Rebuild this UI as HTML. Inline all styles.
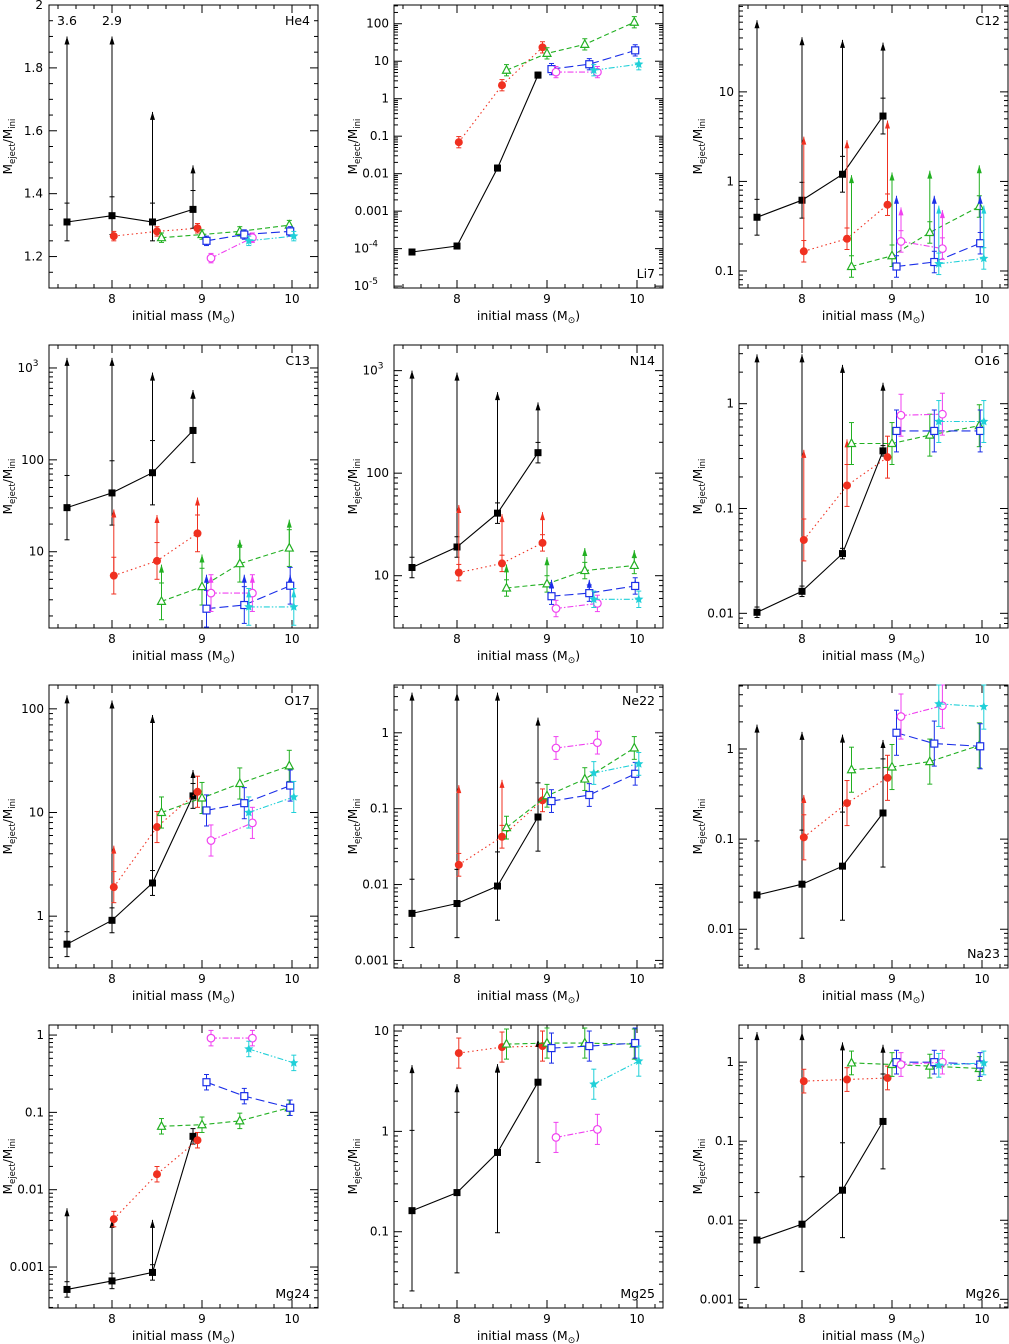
<!DOCTYPE html>
<html><head><meta charset="utf-8">
<style>
html,body{margin:0;padding:0;background:#fff;}
svg{display:block;font-family:"DejaVu Sans","Liberation Sans",sans-serif;}
</style></head>
<body>
<svg id="chart" width="1009" height="1344" viewBox="0 0 1009 1344" xmlns="http://www.w3.org/2000/svg"></svg>
<script>
// Series masses (x values)
const massBlack = [7.5, 8.0, 8.45, 8.9];
const massRed = [8.02, 8.5, 8.95];
const massGreen = [8.55, 9.0, 9.42, 9.97];
const massBlue = [9.05, 9.47, 9.98];
const massMagenta = [9.1, 9.56];
const massCyan = [9.52, 10.02];

const panelNames = ["He4","Li7","C12","C13","N14","O16","O17","Ne22","Na23","Mg24","Mg25","Mg26"];
const labelBottom = [false,true,false,false,false,false,false,false,true,true,true,true];
// y domains: log10 for log panels, linear for He4
const yMin = [1.1,-5.05,-1.19,0.17,0.49,-2.14,-0.5,-3.1,-2.43,-3.53,-1.76,-3.11];
const yMax = [2.0,2.5,1.97,3.25,3.25,0.56,2.23,0.63,0.71,0.13,1.06,0.47];

// values (log10 except He4 linear)
const valBlack = [
 [1.31,1.33,1.31,1.35],[-4.09,-3.93,-1.85,0.63],[-0.40,-0.21,0.08,0.73],[1.48,1.64,1.86,2.32],
 [1.08,1.28,1.61,2.2],[-1.99,-1.79,-1.43,-0.45],[-0.27,-0.04,0.32,1.16],[-2.38,-2.25,-2.02,-1.11],
 [-1.62,-1.5,-1.3,-0.71],[-3.29,-3.18,-3.07,-1.31],[-0.79,-0.61,-0.21,0.49],[-2.25,-2.05,-1.62,-0.75]];
const valRed = [
 [1.265,1.28,1.29],[-1.16,0.36,1.37],[-0.78,-0.64,-0.26],[0.74,0.9,1.2],
 [1.03,1.12,1.32],[-1.30,-0.78,-0.51],[0.28,0.86,1.2],[-1.74,-1.37,-0.89],
 [-0.98,-0.6,-0.32],[-2.38,-1.8,-1.36],[0.78,0.84,0.85],[-0.24,-0.22,-0.2]];
const valGreen = [
 [1.26,1.27,1.28,1.30],[0.76,1.21,1.45,2.04],[-0.95,-0.83,-0.57,-0.28],[0.46,0.62,0.87,1.04],
 [0.88,0.92,1.05,1.10],[-0.38,-0.38,-0.30,-0.21],[1.0,1.14,1.28,1.45],[-1.25,-0.83,-0.61,-0.20],
 [-0.23,-0.2,-0.14,0.04],[-1.18,-1.16,-1.11,-0.94],[0.87,0.88,0.88,0.87],[-0.01,-0.03,-0.05,-0.08]];
const valBlue = [
 [1.25,1.27,1.28],[0.79,0.92,1.29],[-0.95,-0.9,-0.69],[0.38,0.42,0.63],
 [0.8,0.83,0.9],[-0.26,-0.26,-0.26],[1.02,1.09,1.26],[-0.9,-0.82,-0.54],
 [0.18,0.06,0.03],[-0.61,-0.79,-0.94],[0.83,0.85,0.88],[0,0,-0.03]];
const valMagenta = [
 [1.195,1.26],[0.71,0.71],[-0.67,-0.75],[0.55,0.55],[0.68,0.73],[-0.11,-0.10],
 [0.73,0.9],[-0.2,-0.13],[0.36,0.48],[-0.04,-0.04],[-0.06,0.02],[-0.03,0]];
const valCyan = [
 [1.25,1.265],[0.76,0.92],[-0.92,-0.86],[0.40,0.40],[0.77,0.77],[-0.17,-0.17],
 [1.0,1.15],[-0.53,-0.41],[0.5,0.47],[-0.18,-0.36],[0.47,0.70],[-0.04,-0.01]];

// arrow tips (upper-limit arrows), null = none
const tipBlack = [
 [1.9,1.9,1.66,1.49],null,[1.80,1.61,1.58,1.55],[3.11,3.11,2.95,2.76],
 [3.0,2.98,2.79,2.69],[0.47,0.47,0.37,0.2],[2.13,2.08,1.94,1.41],[0.53,0.53,0.53,0.2],
 [0.27,0.19,0.16,0.1],[-2.24,-2.39,-2.39,null],[0.66,0.47,0.67,0.92],[0.38,0.38,0.25,0.22]];
const tipRed = [null,null,[0.5,0.46,0.68],[1.46,1.40,1.59],[1.69,1.6,1.62],[-0.44,-0.34,null],
 [0.68,null,null],[-0.69,-0.62,null],[-0.51,null,null],null,null,null];
const tipGreen = [null,null,[0.07,0.1,0.12,0.18],[0.86,0.97,1.13,1.35],[1.11,1.18,1.27,1.25],null,null,null,null,null,null,null];
const tipBlue = [null,null,[-0.16,-0.16,-0.16],[0.75,0.75,0.75],[0.96,0.96,0.96],null,null,null,null,null,null,null];
const tipMagenta = [null,null,[-0.29,-0.32],[0.75,0.75],null,null,null,null,null,null,null,null];
const tipCyan = [null,null,[-0.27,-0.27],[0.59,0.59],null,null,null,null,null,null,null,null];

// error half-widths (dex; linear for He4)
const errBlack = [0.06,0.08,0.2,0.35,0.1,0.05,0.12,0.45,0.6,0.1,0.8,0.6];
const errColor = [0.015,0.15,0.12,0.2,0.08,0.2,0.15,0.15,0.25,0.1,0.15,0.15];

const svg = document.getElementById('chart');
const NS = "http://www.w3.org/2000/svg";
function mk(tag, attrs, parent){
  const e = document.createElementNS(NS, tag);
  for (const k in attrs) e.setAttribute(k, attrs[k]);
  (parent||svg).appendChild(e);
  return e;
}
const colLeft = [49,394,739], rowTop = [5,345,685,1025];
const PW = 269, PH = 283, XMIN = 7.3, XMAX = 10.289;

const styles = [
 {c:'#000',dash:'',mk:'fsq',name:'black'},
 {c:'#f03020',dash:'1.5,3',mk:'fcirc',name:'red'},
 {c:'#22b022',dash:'5,3',mk:'otri',name:'green'},
 {c:'#1a2ee8',dash:'9,4',mk:'osq',name:'blue'},
 {c:'#f040f0',dash:'6,2,1.5,2',mk:'ocirc',name:'magenta'},
 {c:'#20d0d8',dash:'6,2,1.5,2,1.5,2',mk:'star',name:'cyan'}];

function marker(g, t, x, y, c){
  let e;
  if (t==='fsq') e = mk('rect',{x:x-3.5,y:y-3.5,width:7,height:7,fill:c},g);
  else if (t==='osq') e = mk('rect',{x:x-3.5,y:y-3.5,width:7,height:7,fill:'#fff',stroke:c,'stroke-width':1.2},g);
  else if (t==='fcirc') e = mk('circle',{cx:x,cy:y,r:4,fill:c},g);
  else if (t==='ocirc') e = mk('circle',{cx:x,cy:y,r:3.8,fill:'#fff',stroke:c,'stroke-width':1.2},g);
  else if (t==='otri') e = mk('polygon',{points:`${x},${y-4.5} ${x+4},${y+3} ${x-4},${y+3}`,fill:'#fff',stroke:c,'stroke-width':1.2},g);
  else {
    let p=[]; for(let i=0;i<10;i++){const r=i%2?2.2:4.8,a=-Math.PI/2+i*Math.PI/5;p.push((x+r*Math.cos(a)).toFixed(1)+','+(y+r*Math.sin(a)).toFixed(1));}
    e = mk('polygon',{points:p.join(' '),fill:c},g);
  }
  
  
}

function fmtLog(d){
  if (d<=-4 || d>=3) return {b:'10',s:String(d)};
  if (d<0) return {b:(Math.pow(10,d)).toFixed(-d)};
  return {b:String(Math.pow(10,d))};
}

panelNames.forEach((name, pi) => {
  const L = colLeft[pi%3], T = rowTop[Math.floor(pi/3)];
  const isLin = pi===0;
  const g = mk('g',{});
  
  
  const X = m => L + (m-XMIN)/(XMAX-XMIN)*PW;
  const Y = v => T + PH - (v-yMin[pi])/(yMax[pi]-yMin[pi])*PH;
  const fr = mk('rect',{x:L,y:T,width:PW,height:PH,fill:'none',stroke:'#000','stroke-width':1},g);
  
  
  for (let m=7.4; m<=10.25; m+=0.2){
    const mm = Math.round(m*10)/10, x = X(mm), major = Math.abs(mm-Math.round(mm))<1e-6;
    const len = major?8:4;
    mk('line',{x1:x,y1:T+PH,x2:x,y2:T+PH-len,stroke:'#000','stroke-width':1},g);
    mk('line',{x1:x,y1:T,x2:x,y2:T+len,stroke:'#000','stroke-width':1},g);
    if (major){
      const t = mk('text',{x:x,y:T+PH+15,'font-size':12,'text-anchor':'middle'},g);
      t.textContent = String(Math.round(mm));
      
      
    }
  }
  if (isLin){
    for (let v=1.1; v<=2.001; v+=0.05){
      const vv = Math.round(v*100)/100, y = Y(vv), major = Math.abs(vv*5-Math.round(vv*5))<1e-6;
      const len = major?8:4;
      mk('line',{x1:L,y1:y,x2:L+len,y2:y,stroke:'#000'},g);
      mk('line',{x1:L+PW,y1:y,x2:L+PW-len,y2:y,stroke:'#000'},g);
      if (major){
        const t = mk('text',{x:L-6,y:y+4,'font-size':12,'text-anchor':'end'},g);
        t.textContent = (vv===2?'2':vv.toFixed(1));
        
        
      }
    }
  } else {
    for (let d=Math.floor(yMin[pi]); d<=Math.ceil(yMax[pi]); d++){
      for (let k=1;k<10;k++){
        const v = d+Math.log10(k);
        if (v<yMin[pi]||v>yMax[pi]) continue;
        const y = Y(v), len = k===1?8:4;
        mk('line',{x1:L,y1:y,x2:L+len,y2:y,stroke:'#000'},g);
        mk('line',{x1:L+PW,y1:y,x2:L+PW-len,y2:y,stroke:'#000'},g);
        if (k===1){
          const f = fmtLog(d);
          const t = mk('text',{x:L-5,y:y+4,'font-size':12,'text-anchor':'end'},g);
          if (f.s){ t.textContent=f.b; const s=mk('tspan',{dy:-6,'font-size':9},t); s.textContent=f.s; t.setAttribute('x',L-5-f.s.length*5.5); }
          else t.textContent=f.b;
          
          
        }
      }
    }
  }
  const xt = mk('text',{x:L+PW/2,y:T+PH+32,'font-size':12.5,'text-anchor':'middle'},g);
  xt.textContent='initial mass (M';
  const sub = mk('tspan',{'font-size':9,dy:3},xt); sub.textContent='⊙';
  const cl = mk('tspan',{'font-size':12.5,dy:-3},xt); cl.textContent=')';
  
  
  const yt = mk('text',{x:0,y:0,'font-size':12,'text-anchor':'middle',transform:`translate(${L-37},${T+PH/2}) rotate(-90)`},g);
  yt.textContent='M';
  const s1=mk('tspan',{'font-size':8.5,dy:3},yt); s1.textContent='eject';
  const s2=mk('tspan',{dy:-3},yt); s2.textContent='/M';
  const s3=mk('tspan',{'font-size':8.5,dy:3},yt); s3.textContent='ini';
  
  
  const lb = mk('text',{x:L+PW-8,y:labelBottom[pi]?T+PH-10:T+20,'font-size':12.5,'text-anchor':'end'},g);
  lb.textContent = name;
  
  
  if (pi===0){
    const a=mk('text',{x:X(7.5),y:T+20,'font-size':12.5,'text-anchor':'middle'},g); a.textContent='3.6';
     
    const b=mk('text',{x:X(8.0),y:T+20,'font-size':12.5,'text-anchor':'middle'},g); b.textContent='2.9';
     
  }
  const masses=[massBlack,massRed,massGreen,massBlue,massMagenta,massCyan];
  const vals=[valBlack,valRed,valGreen,valBlue,valMagenta,valCyan];
  const tips=[tipBlack,tipRed,tipGreen,tipBlue,tipMagenta,tipCyan];
  const clip = v => Math.max(yMin[pi],Math.min(yMax[pi],v));
  masses.forEach((ms, si) => {
    const st = styles[si], vs = vals[si][pi], tp = tips[si][pi];
    const sg = mk('g',{},g);
    
    
    const err = si===0?errBlack[pi]:errColor[pi];
    ms.forEach((m,i)=>{
      const x=X(m);
      mk('line',{x1:x,y1:Y(clip(vs[i]-err)),x2:x,y2:Y(clip(vs[i]+err)),stroke:st.c,'stroke-width':1},sg);
      mk('line',{x1:x-2.5,y1:Y(clip(vs[i]-err)),x2:x+2.5,y2:Y(clip(vs[i]-err)),stroke:st.c},sg);
      mk('line',{x1:x-2.5,y1:Y(clip(vs[i]+err)),x2:x+2.5,y2:Y(clip(vs[i]+err)),stroke:st.c},sg);
    });
    if (tp) ms.forEach((m,i)=>{
      if (tp[i]==null) return;
      const x=X(m), y0=Y(vs[i]), y1=Y(clip(tp[i]));
      mk('line',{x1:x,y1:y0,x2:x,y2:y1,stroke:st.c,'stroke-width':1},sg);
      const ar = mk('polygon',{points:`${x},${y1} ${x-2.5},${y1+8} ${x+2.5},${y1+8}`,fill:st.c},sg);
      
      
    });
    const pts = ms.map((m,i)=>X(m).toFixed(1)+','+Y(vs[i]).toFixed(1)).join(' ');
    mk('polyline',{points:pts,fill:'none',stroke:st.c,'stroke-width':1.1,'stroke-dasharray':st.dash},sg);
    ms.forEach((m,i)=>marker(sg,st.mk,X(m),Y(vs[i]),st.c));
  });
});
</script>
</body></html>
